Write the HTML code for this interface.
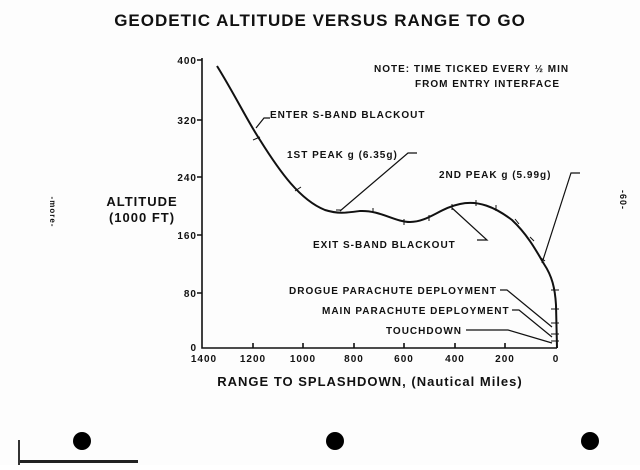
<!DOCTYPE html>
<html><head><style>
body{margin:0;background:#fff;}
svg text{font-family:"Liberation Sans",sans-serif;font-weight:bold;fill:#111;letter-spacing:1px}
</style></head><body>
<svg width="640" height="465" viewBox="0 0 640 465" xmlns="http://www.w3.org/2000/svg">
<rect width="640" height="465" fill="#fdfdfd"/>
<text x="320" y="26" font-size="17" text-anchor="middle">GEODETIC ALTITUDE VERSUS RANGE TO GO</text>
<g stroke="#111" stroke-width="1.6" fill="none">
<path d="M202,58 V348 H557"/>
<path d="M202,120h-5M202,177h-5M202,235h-5M202,293h-5M202,60h-5"/>
<path d="M253,348v-5M303,348v-5M354,348v-5M404,348v-5M455,348v-5M505,348v-5"/>
<path stroke-width="2" d="M217,66 C235,95 248,122 260,140 C280,172 300,200 325,210 C338,214 345,213 360,211 C380,210 395,222 410,222 C428,222 440,208 460,204 C478,200 495,207 512,220 C528,235 537,252 544,264 C552,276 555,288 556,305 L557,348"/>
<path stroke-width="1" d="M253,140l7,-3M295,191l6,-4M336,210l5,0M373,208v5M404,219v6M429,215v6M452,204v6M476,200v6M496,205v6M515,219l4,5M530,237l4,4M541,258l4,3M551,290h8M551,309h8M551,323h8M551,334h8M551,341h8"/>
<path stroke-width="1.2" d="M256,128 L264,118 H270 M340,211 L408,153 H417 M542,263 L571,173 H580 M452,208 L487,240 H477 M500,290 H507 L552,327 M512,310 H519 L552,337 M466,330 H508 L552,343"/>
</g>
<g font-size="10">
<text x="270" y="118">ENTER S-BAND BLACKOUT</text>
<text x="287" y="158">1ST PEAK g (6.35g)</text>
<text x="439" y="178">2ND PEAK g (5.99g)</text>
<text x="313" y="248">EXIT S-BAND BLACKOUT</text>
<text x="289" y="294">DROGUE PARACHUTE DEPLOYMENT</text>
<text x="322" y="314">MAIN PARACHUTE DEPLOYMENT</text>
<text x="386" y="334">TOUCHDOWN</text>
<text x="374" y="72">NOTE: TIME TICKED EVERY ½ MIN</text>
<text x="415" y="87">FROM ENTRY INTERFACE</text>
</g>
<g font-size="10" text-anchor="end">
<text x="197" y="64">400</text><text x="197" y="124">320</text><text x="197" y="181">240</text>
<text x="197" y="239">160</text><text x="197" y="297">80</text><text x="197" y="351">0</text>
</g>
<g font-size="10" text-anchor="middle">
<text x="204" y="362">1400</text><text x="253" y="362">1200</text><text x="303" y="362">1000</text>
<text x="354" y="362">800</text><text x="404" y="362">600</text><text x="455" y="362">400</text>
<text x="505" y="362">200</text><text x="556" y="362">0</text>
</g>
<text x="370" y="386" font-size="13" text-anchor="middle">RANGE TO SPLASHDOWN, (Nautical Miles)</text>
<text x="142" y="206" font-size="13" text-anchor="middle">ALTITUDE</text>
<text x="142" y="222" font-size="13" text-anchor="middle">(1000 FT)</text>
<text x="50" y="212" font-size="8" transform="rotate(90 50 212)" text-anchor="middle">-more-</text>
<text x="620" y="200" font-size="9" transform="rotate(90 620 200)" text-anchor="middle">-60-</text>
<circle cx="82" cy="441" r="9" fill="#000"/>
<circle cx="335" cy="441" r="9" fill="#000"/>
<circle cx="590" cy="441" r="9" fill="#000"/>
<rect x="18" y="460" width="120" height="3" fill="#222"/>
<rect x="18" y="440" width="2" height="25" fill="#333"/>
</svg>
</body></html>
